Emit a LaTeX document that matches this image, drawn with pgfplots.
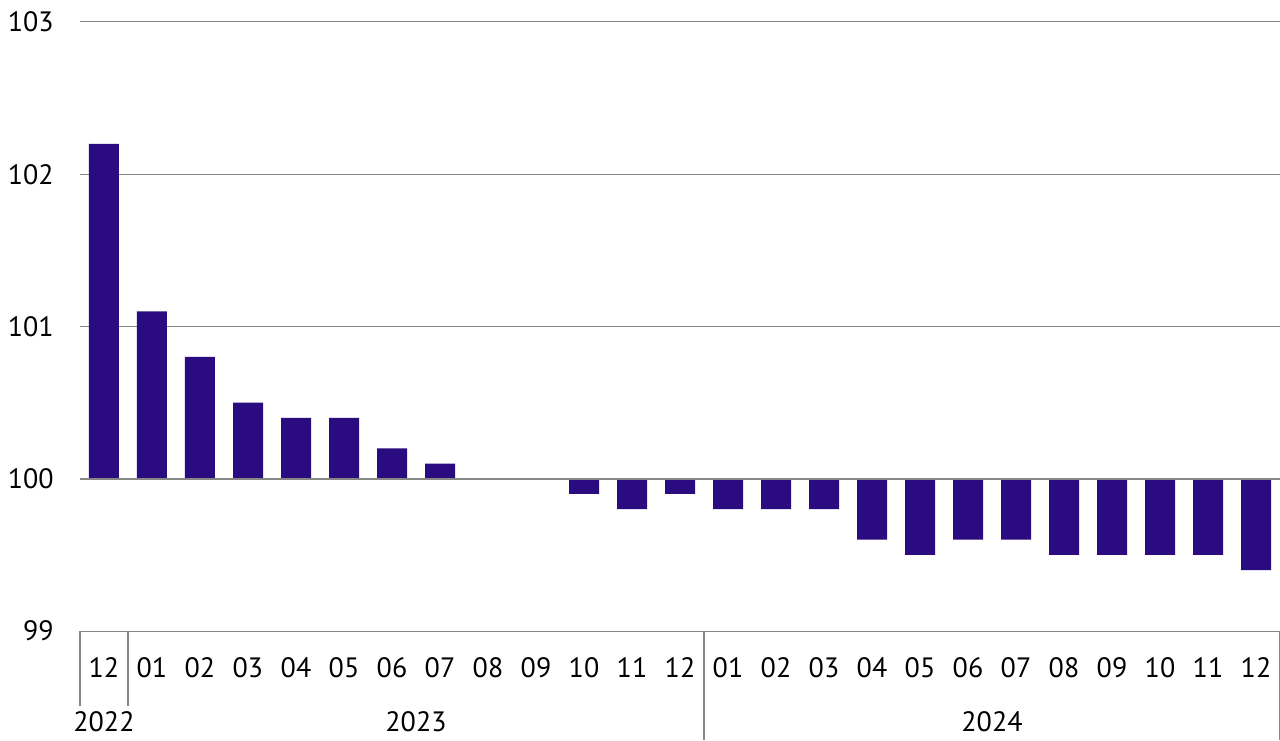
\documentclass[border=0pt]{standalone}
\usepackage{fontspec}
\setmainfont{PT Sans}
\usepackage{pgfplots}
\pgfplotsset{compat=1.18}
\usepackage{pgfplotstable}
\definecolor{barcol}{RGB}{42,12,128}
\definecolor{gridcol}{RGB}{135,135,135}

% index (0 = 2022-12), value
\pgfplotstableread{
idx v
0 102.2
1 101.1
2 100.8
3 100.5
4 100.4
5 100.4
6 100.2
7 100.1
8 100.0
9 100.0
10 99.9
11 99.8
12 99.9
13 99.8
14 99.8
15 99.8
16 99.6
17 99.5
18 99.6
19 99.6
20 99.5
21 99.5
22 99.5
23 99.5
24 99.4
}\idxtable

\begin{document}
\begin{tikzpicture}
\useasboundingbox (0,0) rectangle (640pt,370pt);
\begin{axis}[
    at={(40pt,54.5pt)}, anchor=south west,
    scale only axis, width=600pt, height=304.5pt,
    xmin=-0.5, xmax=24.5, ymin=-1, ymax=3,
    clip=false,
    axis line style={draw=none},
    major tick length=0pt,
    ymajorgrids,
    grid style={gridcol, line width=0.5pt},
    ytick={-1,0,1,2,3},
    yticklabels={99,100,101,102,103},
    yticklabel style={anchor=east, inner sep=0pt, xshift=-13pt},
    xtick={0,...,24},
    xticklabels={12,01,02,03,04,05,06,07,08,09,10,11,12,01,02,03,04,05,06,07,08,09,10,11,12},
    xticklabel style={anchor=center, inner sep=0pt, yshift=-18.5pt},
    tick label style={font=\fontsize{14}{16}\selectfont},
]
\addplot[ybar, bar width=15pt, fill=barcol, draw=none]
    table[x=idx, y expr=\thisrow{v}-100] {\idxtable};

\draw[gridcol, line width=0.9pt] (axis cs:-0.5,0) -- (axis cs:24.5,0);

% year separators
\draw[gridcol, line width=0.6pt] (axis cs:-0.5,-1) -- ([yshift=-37.5pt]axis cs:-0.5,-1);
\draw[gridcol, line width=0.6pt] (axis cs:0.5,-1) -- ([yshift=-37.5pt]axis cs:0.5,-1);
\draw[gridcol, line width=0.6pt] (axis cs:12.5,-1) -- ([yshift=-54.5pt]axis cs:12.5,-1);
\draw[gridcol, line width=0.6pt] (axis cs:24.5,-1) -- ([yshift=-54.5pt]axis cs:24.5,-1);

\node[font=\fontsize{14}{16}\selectfont, inner sep=0pt] at ([yshift=-45.5pt]axis cs:0,-1) {2022};
\node[font=\fontsize{14}{16}\selectfont, inner sep=0pt] at ([yshift=-45.5pt]axis cs:6.5,-1) {2023};
\node[font=\fontsize{14}{16}\selectfont, inner sep=0pt] at ([yshift=-45.5pt]axis cs:18.5,-1) {2024};
\end{axis}
\end{tikzpicture}
\end{document}
